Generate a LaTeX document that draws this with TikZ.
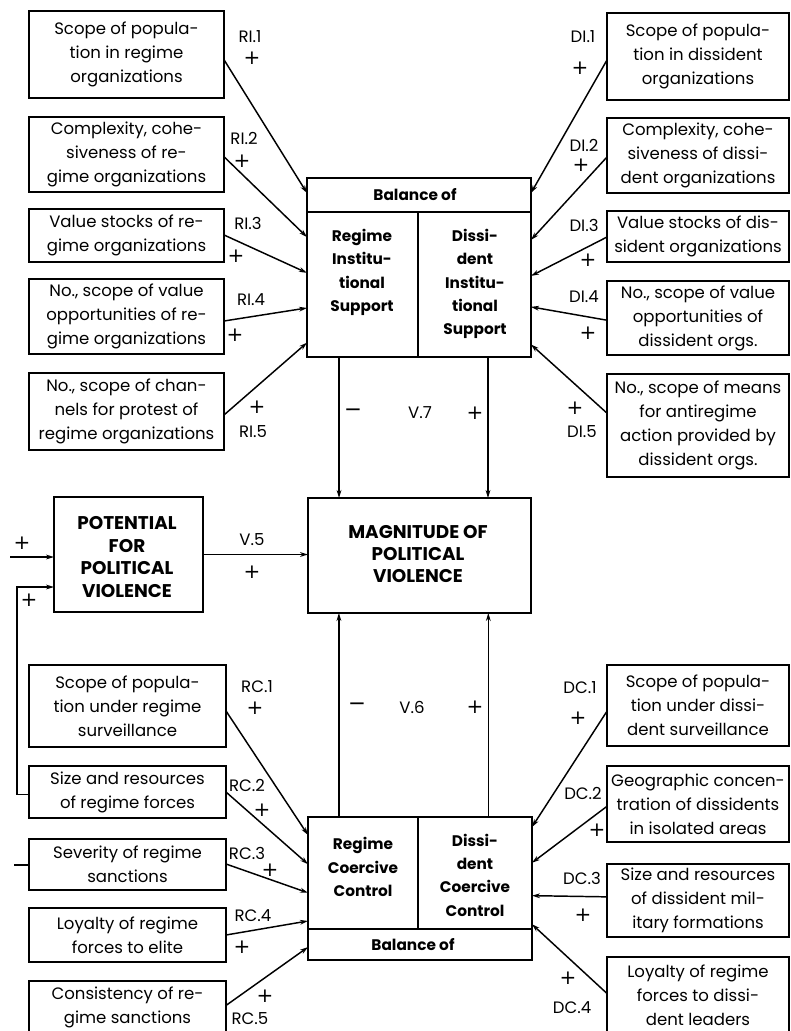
\documentclass[tikz,border=0pt]{standalone}
\usepackage{fontspec}
\setmainfont{Poppins}
\newfontfamily\symfont{DejaVu Sans}
\usetikzlibrary{calc,arrows.meta}

\newcommand\fs{\fontsize{12.4}{18}\selectfont}
\newcommand\fsb{\fontsize{11.5}{17.5}\selectfont\bfseries}
\newcommand\pl{{\symfont\fontsize{15}{15}\selectfont +}}
\newcommand\mi{{\symfont\fontsize{16}{16}\selectfont −}}

\tikzset{
  box/.style={draw, line width=1.6pt, inner sep=0pt, outer sep=0pt, align=center, font=\fs},
  bigbox/.style={draw, line width=1.6pt, inner sep=0pt, outer sep=0pt},
  part/.style={line width=1.3pt},
  arr/.style={line width=1.1pt, -{Stealth[length=6pt,width=3.6pt]}},
  vline/.style={line width=0.9pt, -{Stealth[length=6pt,width=3.6pt]}},
  lbl/.style={inner sep=0pt, font=\fs},
  title/.style={inner sep=0pt, align=center, font=\fsb},
  headline/.style={inner sep=0pt, align=center, font=\fontsize{13.8}{17}\selectfont\bfseries},
}

% \boxat{name}{x1}{y1}{x2}{y2}{text}: framed box given by its corners
\newcommand\boxat[6]{%
  \pgfmathsetmacro\bw{(#4-#2)*0.75}%
  \pgfmathsetmacro\bh{(#5-#3)*0.75}%
  \node[box, minimum width=\bw pt, minimum height=\bh pt] (#1) at ({(#2+#4)/2},{(#3+#5)/2}) {#6};%
}
\newcommand\frameat[5]{%
  \pgfmathsetmacro\bw{(#4-#2)*0.75}%
  \pgfmathsetmacro\bh{(#5-#3)*0.75}%
  \node[bigbox, minimum width=\bw pt, minimum height=\bh pt] (#1) at ({(#2+#4)/2},{(#3+#5)/2}) {};%
}

\begin{document}
\begin{tikzpicture}[x=0.75pt,y=-0.75pt]
\useasboundingbox (0,0) rectangle (790,1031);

% ---------- regime institutional factors ----------
\boxat{ri1}{29}{11}{224}{98}{Scope of popula-\\tion in regime\\organizations}
\boxat{ri2}{29}{117}{224}{192}{Complexity, cohe-\\siveness of re-\\gime organizations}
\boxat{ri3}{29}{209}{224}{262}{Value stocks of re-\\gime organizations}
\boxat{ri4}{29}{279}{224}{354}{No., scope of value\\opportunities of re-\\gime organizations}
\boxat{ri5}{29}{373}{224}{450}{No., scope of chan-\\nels for protest of\\regime organizations}

% ---------- dissident institutional factors ----------
\boxat{di1}{607}{13}{789}{100}{Scope of popula-\\tion in dissident\\organizations}
\boxat{di2}{607}{118}{789}{193}{Complexity, cohe-\\siveness of dissi-\\dent organizations}
\boxat{di3}{607}{211}{789}{262}{Value stocks of dis-\\sident organizations}
\boxat{di4}{607}{281}{789}{355}{No., scope of value\\opportunities of\\dissident orgs.}
\boxat{di5}{607}{374}{789}{477}{No., scope of means\\for antiregime\\action provided by\\dissident orgs.}

% ---------- balance of institutional support ----------
\frameat{tb}{307}{178}{531}{357}
\draw[part] ($(tb.north west)+(0,34)$) -- ($(tb.north east)+(0,34)$);
\draw[part] ($(tb.north west)+(111,34)$) -- ($(tb.south west)+(111,0)$);
\node[title] at (415,195) {Balance of};
\node[title, anchor=north] at (362,229) {Regime\\Institu-\\tional\\Support};
\node[title, anchor=north] at (475,229) {Dissi-\\dent\\Institu-\\tional\\Support};

% ---------- central variables ----------
\frameat{pot}{54}{497}{203}{612}
\node[headline] at (127,557) {POTENTIAL\\FOR\\POLITICAL\\VIOLENCE};
\frameat{mag}{308}{498}{531}{613}
\node[headline, font=\fontsize{13.8}{16.5}\selectfont\bfseries] at (418,554) {MAGNITUDE OF\\POLITICAL\\VIOLENCE};

% ---------- balance of coercive control ----------
\frameat{bb}{308}{817}{532}{960}
\draw[part] ($(bb.south west)+(0,-31)$) -- ($(bb.south east)+(0,-31)$);
\draw[part] ($(bb.north west)+(110,0)$) -- ($(bb.south west)+(110,-31)$);
\node[title] at (413,945) {Balance of};
\node[title] at (363,867) {Regime\\Coercive\\Control};
\node[title] at (475,875) {Dissi-\\dent\\Coercive\\Control};

% ---------- regime coercive factors ----------
\boxat{rc1}{29}{665}{226}{747}{Scope of popula-\\tion under regime\\surveillance}
\boxat{rc2}{29}{766}{226}{818}{Size and resources\\of regime forces}
\boxat{rc3}{29}{839}{226}{890}{Severity of regime\\sanctions}
\boxat{rc4}{29}{908}{226}{962}{Loyalty of regime\\forces to elite}
\boxat{rc5}{29}{981}{226}{1033}{Consistency of re-\\gime sanctions}

% ---------- dissident coercive factors ----------
\boxat{dc1}{607}{665}{789}{746}{Scope of popula-\\tion under dissi-\\dent surveillance}
\boxat{dc2}{607}{766}{789}{842}{Geographic concen-\\tration of dissidents\\in isolated areas}
\boxat{dc3}{607}{864}{789}{937}{Size and resources\\of dissident mil-\\itary formations}
\boxat{dc4}{607}{957}{789}{1033}{Loyalty of regime\\forces to dissi-\\dent leaders}

% ---------- connectors into institutional support ----------
\draw[arr] ($(ri1.north east)!0.56!(ri1.south east)$) -- ($(tb.north west)!0.084!(tb.south west)$);
\draw[arr] ($(ri2.north east)!0.53!(ri2.south east)$) -- ($(tb.north west)!0.33!(tb.south west)$);
\draw[arr] ($(ri3.north east)!0.49!(ri3.south east)$) -- ($(tb.north west)!0.53!(tb.south west)$);
\draw[arr] ($(ri4.north east)!0.56!(ri4.south east)$) -- ($(tb.north west)!0.726!(tb.south west)$);
\draw[arr] ($(ri5.north east)!0.545!(ri5.south east)$) -- ($(tb.north west)!0.92!(tb.south west)$);

\draw[arr] ($(di1.north west)!0.54!(di1.south west)$) -- ($(tb.north east)!0.084!(tb.south east)$);
\draw[arr] ($(di2.north west)!0.52!(di2.south west)$) -- ($(tb.north east)!0.346!(tb.south east)$);
\draw[arr] ($(di3.north west)!0.51!(di3.south west)$) -- ($(tb.north east)!0.547!(tb.south east)$);
\draw[arr] ($(di4.north west)!0.53!(di4.south west)$) -- ($(tb.north east)!0.72!(tb.south east)$);
\draw[arr] ($(di5.north west)!0.38!(di5.south west)$) -- ($(tb.north east)!0.93!(tb.south east)$);

% ---------- connectors into coercive control ----------
\draw[arr] ($(rc1.north east)!0.56!(rc1.south east)$) -- ($(bb.north west)!0.126!(bb.south west)$);
\draw[arr] ($(rc2.north east)!0.5!(rc2.south east)$) -- ($(bb.north west)!0.33!(bb.south west)$);
\draw[arr] ($(rc3.north east)!0.49!(rc3.south east)$) -- ($(bb.north west)!0.53!(bb.south west)$);
\draw[arr] ($(rc4.north east)!0.5!(rc4.south east)$) -- ($(bb.north west)!0.727!(bb.south west)$);
\draw[arr] ($(rc5.north east)!0.47!(rc5.south east)$) -- ($(bb.north west)!0.91!(bb.south west)$);

\draw[arr] ($(dc1.north west)!0.57!(dc1.south west)$) -- ($(bb.north east)!0.07!(bb.south east)$);
\draw[arr] ($(dc2.north west)!0.53!(dc2.south west)$) -- ($(bb.north east)!0.32!(bb.south east)$);
\draw[arr] ($(dc3.north west)!0.45!(dc3.south west)$) -- ($(bb.north east)!0.55!(bb.south east)$);
\draw[arr] ($(dc4.north west)!0.48!(dc4.south west)$) -- ($(bb.north east)!0.75!(bb.south east)$);

% ---------- links to magnitude of violence ----------
\coordinate (t1) at ($(tb.south west)!0.143!(tb.south east)$);
\coordinate (t2) at ($(tb.south west)!0.808!(tb.south east)$);
\draw[vline] (t1) -- (t1 |- mag.north);
\draw[vline] (t2) -- (t2 |- mag.north);
\coordinate (b1) at ($(bb.north west)!0.138!(bb.north east)$);
\coordinate (b2) at ($(bb.north west)!0.805!(bb.north east)$);
\draw[vline] (b1) -- (b1 |- mag.south);
\draw[vline] (b2) -- (b2 |- mag.south);

\draw[arr] (pot.east) -- (pot.east -| mag.west);

\coordinate (inL) at (10,557);
\draw[arr] (inL) -- (inL -| pot.west);
\coordinate (fb) at (17,587);
\draw[arr] ($(rc2.north west)!0.55!(rc2.south west)$) -| (fb) -- (fb -| pot.west);
\coordinate (c3) at (14,865);
\draw[line width=1.1pt] (c3) -- (c3 -| rc3.west);

% ---------- link labels ----------
\node[lbl] at (250,37) {RI.1};  \node[lbl] at (252,58) {\pl};
\node[lbl] at (244,138) {RI.2}; \node[lbl] at (242,161) {\pl};
\node[lbl] at (248,223) {RI.3}; \node[lbl] at (236,256) {\pl};
\node[lbl] at (251,300) {RI.4}; \node[lbl] at (235,335) {\pl};
\node[lbl] at (257,407) {\pl};  \node[lbl] at (253,432) {RI.5};

\node[lbl] at (583,37) {DI.1};  \node[lbl] at (580,68) {\pl};
\node[lbl] at (584,145) {DI.2}; \node[lbl] at (581,165) {\pl};
\node[lbl] at (584,225) {DI.3}; \node[lbl] at (588,260) {\pl};
\node[lbl] at (584,297) {DI.4}; \node[lbl] at (588,333) {\pl};
\node[lbl] at (575,408) {\pl};  \node[lbl] at (582,432) {DI.5};

\node[lbl] at (257,687) {RC.1}; \node[lbl] at (255,708) {\pl};
\node[lbl] at (247,785) {RC.2}; \node[lbl] at (262,810) {\pl};
\node[lbl] at (247,853) {RC.3}; \node[lbl] at (270,870) {\pl};
\node[lbl] at (253,916) {RC.4}; \node[lbl] at (242,947) {\pl};
\node[lbl] at (265,996) {\pl};  \node[lbl] at (250,1019) {RC.5};

\node[lbl] at (580,688) {DC.1}; \node[lbl] at (578,718) {\pl};
\node[lbl] at (583,793) {DC.2}; \node[lbl] at (597,830) {\pl};
\node[lbl] at (582,878) {DC.3}; \node[lbl] at (583,915) {\pl};
\node[lbl] at (568,978) {\pl};  \node[lbl] at (572,1008) {DC.4};

\node[lbl] at (353,413) {\mi}; \node[lbl] at (420,413) {V.7}; \node[lbl] at (475,413) {\pl};
\node[lbl] at (357,707) {\mi}; \node[lbl] at (412,707) {V.6}; \node[lbl] at (475,707) {\pl};
\node[lbl] at (252,540) {V.5}; \node[lbl] at (252,572) {\pl};
\node[lbl] at (22,543) {\pl};
\node[lbl] at (29,600) {\pl};
\end{tikzpicture}
\end{document}
